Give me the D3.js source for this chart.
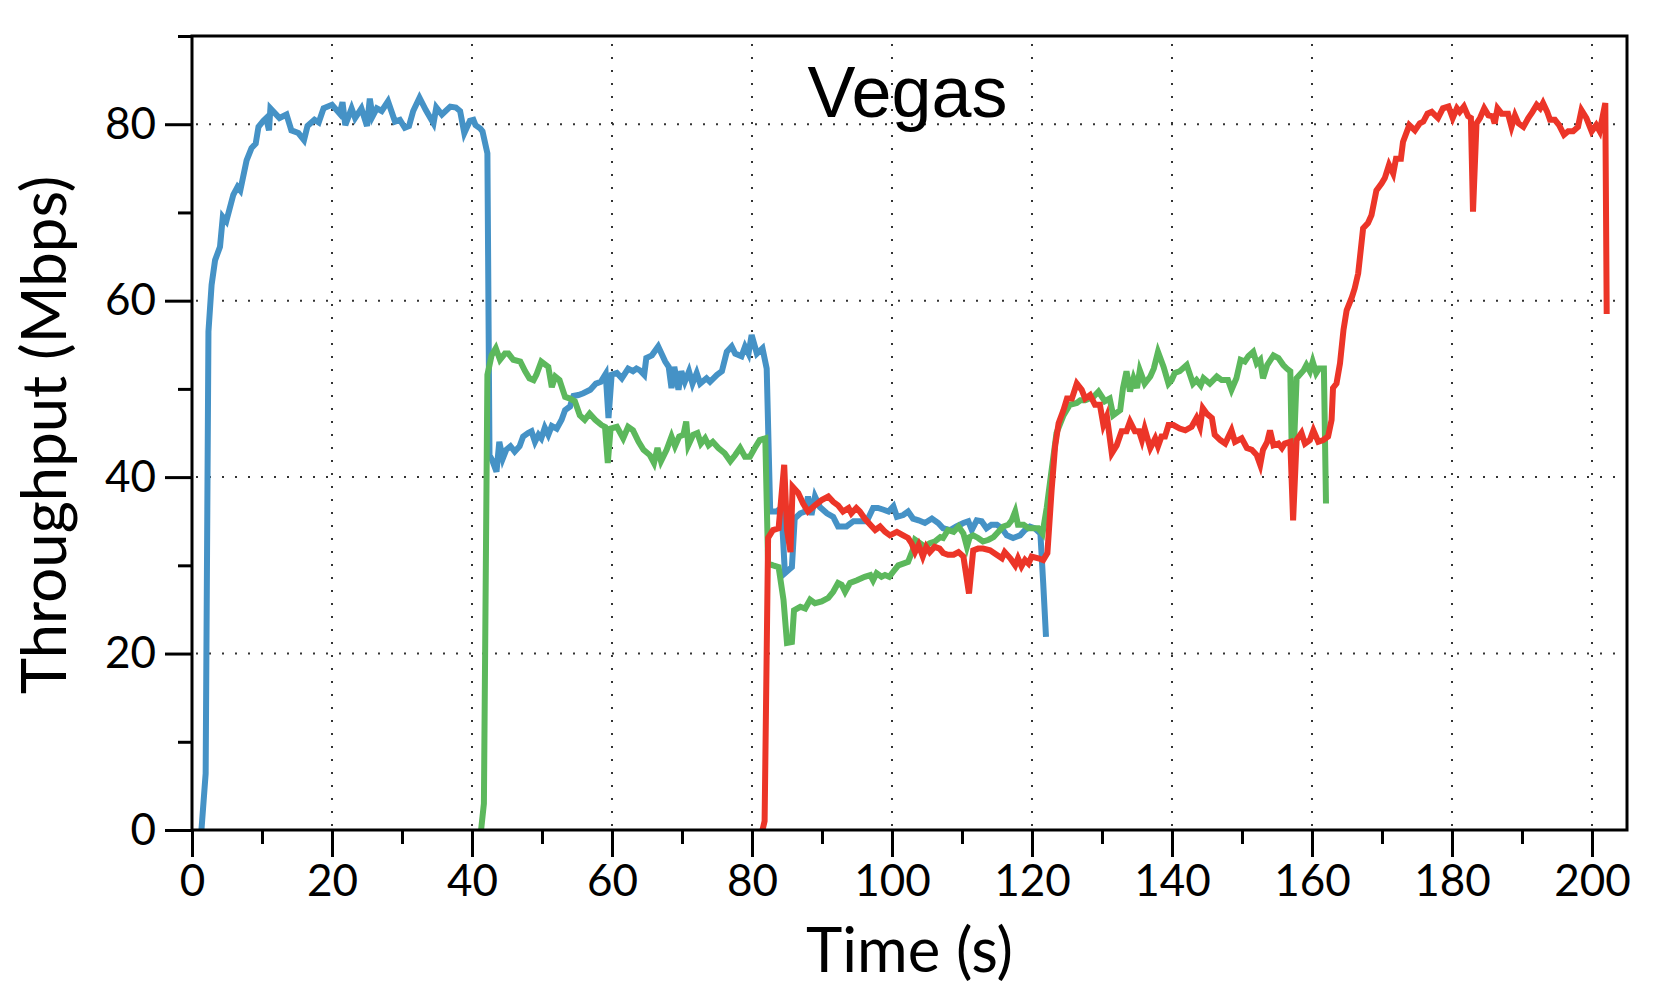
<!DOCTYPE html>
<html>
<head>
<meta charset="utf-8">
<script src="https://cdn.jsdelivr.net/npm/d3@7"></script>
<style>
  body { margin: 0; background: #fff; }
  svg { display: block; }
</style>
</head>
<body>
<div id="wrapper"></div>
<script>
// throughput samples [time (s), Mbps]
const flow1 = [
  [1.35,0],[1.95,6.4],[2.35,56.5],[2.8,61.8],[3.3,64.6],[4.0,66.1],[4.4,69.5],[4.9,69.0],[5.9,72.0],[6.5,72.9],
  [6.9,72.5],[7.8,75.9],[8.5,77.3],[9.1,77.8],[9.5,79.7],[10.2,80.4],[10.6,80.7],[11.0,79.3],[11.2,81.8],[12.5,80.7],
  [13.5,81.1],[14.2,79.3],[15.2,79.0],[16.0,78.2],[16.5,79.8],[17.5,80.5],[18.1,80.2],[18.8,81.8],[20.0,82.2],[21.1,81.2],
  [21.5,82.5],[21.9,79.9],[22.8,81.8],[23.3,80.7],[24.2,81.8],[25.0,79.8],[25.4,82.9],[25.8,80.9],[26.4,81.8],[27.1,81.5],
  [28.0,82.6],[29.0,80.3],[29.7,80.5],[30.4,79.6],[31.0,79.8],[31.6,81.5],[32.5,83.0],[33.4,81.6],[34.5,80.1],[34.9,81.9],
  [35.7,81.1],[36.9,82.0],[37.7,81.9],[38.3,81.5],[38.9,79.0],[39.7,80.4],[40.2,80.5],[40.5,79.9],[41.2,79.5],[41.5,79.2],
  [42.2,76.7],[42.5,42.5],[42.9,41.9],[43.5,40.6],[43.9,44.0],[44.4,42.1],[44.9,43.1],[45.5,43.5],[46.1,42.9],[46.8,43.5],
  [47.3,44.6],[48.0,45.0],[48.5,45.2],[49.0,44.0],[49.5,44.8],[49.9,44.4],[50.4,45.6],[50.9,44.8],[51.4,45.8],[52.1,45.5],
  [52.8,46.5],[53.3,47.6],[54.0,48.0],[54.5,49.2],[55.2,49.3],[55.9,49.5],[56.9,49.9],[57.7,50.6],[58.4,50.8],[59.1,51.7],
  [59.5,46.7],[59.95,51.6],[60.7,51.8],[61.4,51.2],[62.3,52.3],[63.0,52.0],[63.5,52.3],[64.0,52.1],[64.6,51.6],[64.9,53.5],
  [65.7,53.8],[66.6,54.8],[67.6,53.1],[68.1,52.5],[68.5,50.1],[68.9,52.5],[69.5,49.9],[69.9,52.0],[70.4,50.8],[71.0,52.0],
  [71.5,50.6],[72.1,51.8],[72.6,50.6],[73.5,51.2],[74.0,50.8],[75.0,51.6],[75.7,52.0],[76.4,54.2],[77.1,54.8],[77.6,54.0],
  [78.5,53.7],[79.0,54.8],[79.5,54.0],[79.95,56.1],[80.7,54.0],[81.5,54.6],[82.1,52.3],[82.6,36.1],[83.5,36.1],[84.2,36.5],
  [84.7,29.1],[85.7,29.8],[86.1,35.3],[86.9,35.9],[87.6,36.1],[88.0,37.8],[88.5,35.7],[89.0,37.8],[89.7,36.6],[90.7,35.9],
  [91.6,35.5],[92.3,34.4],[93.5,34.4],[94.5,35.0],[95.4,35.0],[96.4,35.0],[97.3,36.5],[98.0,36.5],[98.8,36.3],[99.5,36.1],
  [100.2,36.7],[100.7,35.5],[101.6,35.7],[102.3,36.1],[103.0,35.3],[103.8,35.1],[104.7,34.8],[105.7,35.3],[106.6,34.8],[107.3,34.2],
  [108.3,34.0],[109.2,34.4],[110.2,34.8],[110.9,35.0],[111.4,34.0],[112.1,35.1],[112.8,35.0],[113.5,34.2],[114.2,34.6],[115.0,34.6],
  [115.7,34.2],[116.4,33.4],[117.3,33.1],[118.3,33.4],[119.0,34.0],[119.7,34.4],[120.4,34.2],[121.2,33.6],[121.6,28.0],[122.0,21.9]
]

const flow2 = [
  [41.3,0],[41.7,3.0],[42.2,51.6],[42.8,53.8],[43.4,54.6],[44.0,53.3],[44.7,54.0],[45.2,54.0],[45.9,53.3],[46.9,53.1],
  [47.6,52.0],[48.2,51.2],[48.8,51.0],[49.2,51.6],[49.9,53.1],[50.9,52.5],[51.4,50.2],[51.9,51.4],[52.5,51.0],[53.3,49.1],
  [54.0,48.9],[54.7,48.6],[55.4,47.0],[56.1,46.5],[56.8,47.2],[57.6,46.5],[58.5,45.9],[59.0,45.7],[59.4,41.6],[59.8,45.5],
  [60.7,45.7],[61.6,44.4],[62.3,45.7],[63.0,45.3],[63.8,44.0],[64.5,43.1],[65.4,42.5],[66.0,41.6],[66.5,43.3],[67.0,41.8],
  [67.8,43.1],[68.5,44.6],[69.0,43.5],[69.6,44.6],[70.2,44.8],[70.6,46.3],[70.9,43.6],[71.6,44.8],[72.2,45.0],[72.7,43.8],
  [73.3,44.4],[73.8,43.6],[74.4,44.0],[75.2,43.3],[76.1,42.7],[76.9,41.8],[77.6,42.5],[78.3,43.3],[79.0,42.3],[79.7,42.3],
  [80.4,43.3],[81.1,44.2],[81.9,44.4],[82.3,30.2],[83.0,30.0],[83.8,29.8],[84.5,26.1],[85.0,21.2],[85.7,21.3],[86.0,24.9],
  [86.9,25.3],[87.6,25.1],[88.3,26.1],[89.0,25.7],[89.95,25.9],[90.9,26.3],[91.6,27.0],[92.3,28.0],[92.8,27.8],[93.3,27.0],
  [94.0,28.0],[95.0,28.3],[96.1,28.7],[96.9,28.9],[97.3,28.3],[97.8,29.1],[98.5,28.7],[99.0,28.9],[99.6,28.7],[100.2,29.3],
  [100.9,30.0],[101.6,30.2],[102.3,30.4],[102.95,31.7],[103.3,32.9],[104.0,32.5],[104.7,32.1],[105.4,32.5],[106.1,32.7],[106.9,33.2],
  [107.3,33.1],[108.0,34.0],[108.8,33.8],[109.5,34.4],[110.2,33.6],[110.7,32.1],[111.1,33.2],[111.6,33.4],[112.3,33.1],[113.0,32.7],
  [113.8,32.9],[114.5,33.2],[115.2,33.8],[115.9,34.4],[116.6,34.6],[117.1,35.1],[117.6,36.1],[118.0,34.6],[118.8,34.6],[119.5,34.2],
  [120.2,34.2],[120.9,34.2],[121.5,33.6],[122.1,36.5],[122.8,40.8],[123.5,45.0],[124.5,47.0],[125.4,48.2],[126.4,48.4],[126.9,48.7],
  [127.6,48.7],[128.8,49.1],[129.5,49.7],[130.4,48.6],[131.1,48.9],[131.6,47.0],[132.6,47.6],[133.0,50.1],[133.5,52.0],[134.0,49.7],
  [134.5,51.2],[135.0,50.1],[135.4,52.1],[136.1,50.6],[136.9,51.4],[137.4,52.3],[138.0,54.2],[138.8,52.5],[139.5,50.6],[139.95,51.0],
  [140.4,51.8],[141.1,52.0],[142.1,52.7],[143.0,50.6],[143.5,51.0],[144.1,50.4],[144.5,51.2],[145.4,50.6],[146.4,51.4],[147.1,51.0],
  [148.0,51.0],[148.5,49.9],[149.2,51.2],[149.8,53.3],[150.4,53.1],[150.9,53.7],[151.6,54.2],[152.1,52.9],[152.6,53.3],[153.0,51.2],
  [153.6,52.7],[154.5,53.8],[155.2,53.5],[155.9,52.7],[156.4,52.3],[156.9,52.0],[157.2,39.0],[157.8,51.2],[158.8,52.1],[159.2,52.7],
  [159.7,52.0],[160.1,53.1],[160.6,51.8],[161.0,52.3],[161.7,52.3],[162.0,37.0]
]

const flow3 = [
  [81.5,0],[81.8,1.0],[82.3,33.1],[83.0,34.0],[83.8,34.2],[84.6,41.4],[85.0,34.0],[85.5,31.5],[85.8,38.9],[86.6,38.2],
  [87.3,37.0],[88.0,36.1],[89.0,36.8],[89.95,37.4],[90.9,37.8],[91.6,37.2],[92.3,36.8],[93.0,36.1],[93.8,36.5],[94.2,35.9],
  [94.9,36.5],[95.4,36.1],[96.1,35.3],[96.9,34.6],[97.6,34.0],[98.3,34.4],[99.0,33.8],[99.7,33.4],[100.7,33.8],[101.6,33.4],
  [102.3,33.1],[102.8,32.5],[103.3,31.5],[103.8,32.3],[104.4,31.0],[104.9,32.1],[105.4,31.5],[106.1,32.1],[106.8,31.9],[107.3,31.4],
  [108.0,31.2],[108.8,31.2],[109.5,31.5],[110.2,31.0],[111.0,26.8],[111.6,31.7],[112.3,31.9],[113.0,31.9],[114.0,31.7],[114.95,31.2],
  [115.7,30.8],[116.1,31.5],[116.9,30.8],[117.6,30.0],[118.0,30.8],[118.5,29.9],[119.0,30.6],[119.5,30.2],[119.95,31.0],[120.9,30.8],
  [121.6,30.6],[122.2,31.4],[122.8,38.5],[123.3,43.5],[123.8,46.1],[124.5,47.6],[125.0,48.9],[125.7,48.9],[126.4,50.6],[127.1,49.9],
  [127.6,48.9],[128.3,49.3],[129.0,48.2],[129.7,48.2],[130.2,45.9],[130.7,46.9],[131.4,42.7],[132.1,43.6],[132.8,45.2],[133.5,45.2],
  [134.0,46.3],[134.7,45.2],[135.3,45.2],[135.7,44.2],[136.1,45.5],[136.9,43.3],[137.6,44.4],[138.0,43.5],[138.5,44.6],[139.0,44.6],
  [139.5,45.9],[140.2,45.9],[141.1,45.5],[141.9,45.3],[142.8,45.7],[143.5,46.7],[144.0,45.7],[144.4,47.8],[144.95,47.2],[145.7,46.7],
  [146.1,44.8],[146.9,44.2],[147.6,43.8],[148.5,45.3],[149.0,44.0],[149.95,44.4],[150.7,43.3],[151.4,43.1],[152.1,42.5],[152.6,41.4],
  [153.0,43.1],[153.6,44.0],[154.0,45.3],[154.5,43.6],[155.2,43.8],[155.7,43.3],[156.1,43.8],[156.9,44.0],[157.3,35.1],[157.8,44.2],
  [158.5,45.0],[159.0,43.8],[159.7,44.2],[160.2,45.3],[160.9,44.0],[161.6,44.2],[162.3,44.6],[162.8,46.5],[163.0,50.1],[163.5,50.6],
  [164.0,52.9],[164.5,56.7],[164.95,58.9],[165.7,60.4],[166.1,61.4],[166.6,63.1],[167.3,68.2],[168.0,68.8],[168.5,69.7],[169.2,72.5],
  [169.95,73.3],[170.4,73.9],[171.0,75.4],[171.6,74.4],[172.0,76.1],[172.7,76.1],[173.0,78.0],[173.9,79.9],[174.7,79.3],[175.4,80.1],
  [175.9,80.3],[176.5,81.2],[177.1,81.4],[178.0,80.7],[178.7,81.8],[179.5,82.0],[180.1,80.7],[180.7,81.8],[181.1,81.4],[181.7,82.0],
  [182.3,80.9],[182.7,80.7],[183.0,70.1],[183.5,80.1],[184.0,80.7],[184.6,81.8],[185.2,81.0],[185.8,80.9],[186.1,80.1],[186.5,81.8],
  [187.1,81.2],[188.0,81.2],[188.5,79.7],[189.0,81.0],[189.5,80.1],[190.2,79.7],[190.9,80.7],[191.5,81.4],[192.1,82.2],[192.6,81.8],
  [193.0,82.4],[193.6,81.4],[194.0,80.5],[194.7,80.5],[195.3,79.9],[196.0,78.8],[196.6,79.2],[197.3,79.2],[198.0,79.7],[198.5,81.6],
  [199.2,80.7],[199.95,79.2],[200.6,79.9],[201.1,79.2],[201.9,82.4],[202.1,58.5]
]

const flowColors = ["#4592c6", "#5cb85c", "#ec3528"]

const xMajorTicks = [0, 20, 40, 60, 80, 100, 120, 140, 160, 180, 200]
const xMinorTicks = [10, 30, 50, 70, 90, 110, 130, 150, 170, 190]
const yMajorTicks = [0, 20, 40, 60, 80]
const yMinorTicks = [10, 30, 50, 70, 90]

const chartTitle = "Vegas"
const xLabel = "Time (s)"
const yLabel = "Throughput (Mbps)"

let dimensions = {
  width: 1661,
  height: 997,
  margin: {
    top: 36,
    right: 34,
    bottom: 167,
    left: 192,
  },
}
dimensions.boundedWidth = dimensions.width
  - dimensions.margin.left
  - dimensions.margin.right
dimensions.boundedHeight = dimensions.height
  - dimensions.margin.top
  - dimensions.margin.bottom

const xAccessor = d => d[0]
const yAccessor = d => d[1]

const wrapper = d3.select("#wrapper")
  .append("svg")
    .attr("width", dimensions.width)
    .attr("height", dimensions.height)

const bounds = wrapper.append("g")
    .attr("transform", `translate(${dimensions.margin.left},${dimensions.margin.top})`)

const xScale = d3.scaleLinear()
  .domain([0, 205])
  .range([0, dimensions.boundedWidth])

const yScale = d3.scaleLinear()
  .domain([0, 90])
  .range([dimensions.boundedHeight, 0])

// dotted grid at the labelled ticks
const grid = bounds.append("g")
    .attr("fill", "none")
    .attr("stroke", "#333")
    .attr("stroke-width", 2)
    .attr("stroke-dasharray", "2,11")

grid.selectAll(".vgrid")
  .data(xMajorTicks.filter(d => d > 0))
  .join("line")
    .attr("class", "vgrid")
    .attr("x1", d => xScale(d))
    .attr("x2", d => xScale(d))
    .attr("y1", dimensions.boundedHeight - 4)
    .attr("y2", 0)

grid.selectAll(".hgrid")
  .data(yMajorTicks.filter(d => d > 0))
  .join("line")
    .attr("class", "hgrid")
    .attr("x1", 4)
    .attr("x2", dimensions.boundedWidth)
    .attr("y1", d => yScale(d))
    .attr("y2", d => yScale(d))

// lines
const lineGenerator = d3.line()
  .x(d => xScale(xAccessor(d)))
  .y(d => yScale(yAccessor(d)))

const flows = [flow1, flow2, flow3]
bounds.append("g")
  .selectAll("path")
  .data(flows)
  .join("path")
    .attr("d", d => lineGenerator(d))
    .attr("fill", "none")
    .attr("stroke", (d, i) => flowColors[i])
    .attr("stroke-width", 6)
    .attr("stroke-linejoin", "miter")
    .attr("stroke-miterlimit", 4)

// frame
bounds.append("rect")
    .attr("width", dimensions.boundedWidth)
    .attr("height", dimensions.boundedHeight)
    .attr("fill", "none")
    .attr("stroke", "#000")
    .attr("stroke-width", 3)

const tickFont = "Lato, 'Noto Sans', sans-serif"

const styleAxis = g => {
  g.select(".domain").remove()
  g.selectAll("line").attr("stroke", "#000").attr("stroke-width", 3)
  g.selectAll("text")
    .attr("fill", "#000")
    .style("font-family", tickFont)
    .style("font-size", "44px")
}

const xAxisGenerator = d3.axisBottom(xScale)
  .tickValues(xMajorTicks)
  .tickSize(27)
  .tickSizeOuter(0)
  .tickPadding(8)
const xMinorGenerator = d3.axisBottom(xScale)
  .tickValues(xMinorTicks)
  .tickSize(14)
  .tickSizeOuter(0)
  .tickFormat("")

bounds.append("g")
  .attr("transform", `translate(0,${dimensions.boundedHeight})`)
  .call(xAxisGenerator)
  .call(styleAxis)
bounds.append("g")
  .attr("transform", `translate(0,${dimensions.boundedHeight})`)
  .call(xMinorGenerator)
  .call(styleAxis)

const yAxisGenerator = d3.axisLeft(yScale)
  .tickValues(yMajorTicks)
  .tickSize(27)
  .tickSizeOuter(0)
  .tickPadding(9)
const yMinorGenerator = d3.axisLeft(yScale)
  .tickValues(yMinorTicks)
  .tickSize(14)
  .tickSizeOuter(0)
  .tickFormat("")

bounds.append("g").call(yAxisGenerator).call(styleAxis)
bounds.append("g").call(yMinorGenerator).call(styleAxis)

// fit a label to the width it has in the figure
const fitText = (sel, size, target) => {
  sel.style("font-size", size + "px")
  const len = sel.node().getComputedTextLength()
  sel.style("font-size", (size * target / len).toFixed(1) + "px")
}

const xTitle = wrapper.append("text")
    .attr("x", dimensions.margin.left + dimensions.boundedWidth / 2)
    .attr("y", 972)
    .attr("text-anchor", "middle")
    .style("font-family", tickFont)
    .text(xLabel)
fitText(xTitle, 56, 207)

const yTitle = wrapper.append("text")
    .attr("transform", `translate(66,${dimensions.margin.top + dimensions.boundedHeight / 2 + 2}) rotate(-90)`)
    .attr("text-anchor", "middle")
    .style("font-family", tickFont)
    .text(yLabel)
fitText(yTitle, 56, 519)

const title = bounds.append("text")
    .attr("x", dimensions.boundedWidth / 2 - 2)
    .attr("y", 81)
    .attr("text-anchor", "middle")
    .style("font-family", "'Liberation Sans', Arial, sans-serif")
    .text(chartTitle)
fitText(title, 72, 200)
</script>
</body>
</html>
